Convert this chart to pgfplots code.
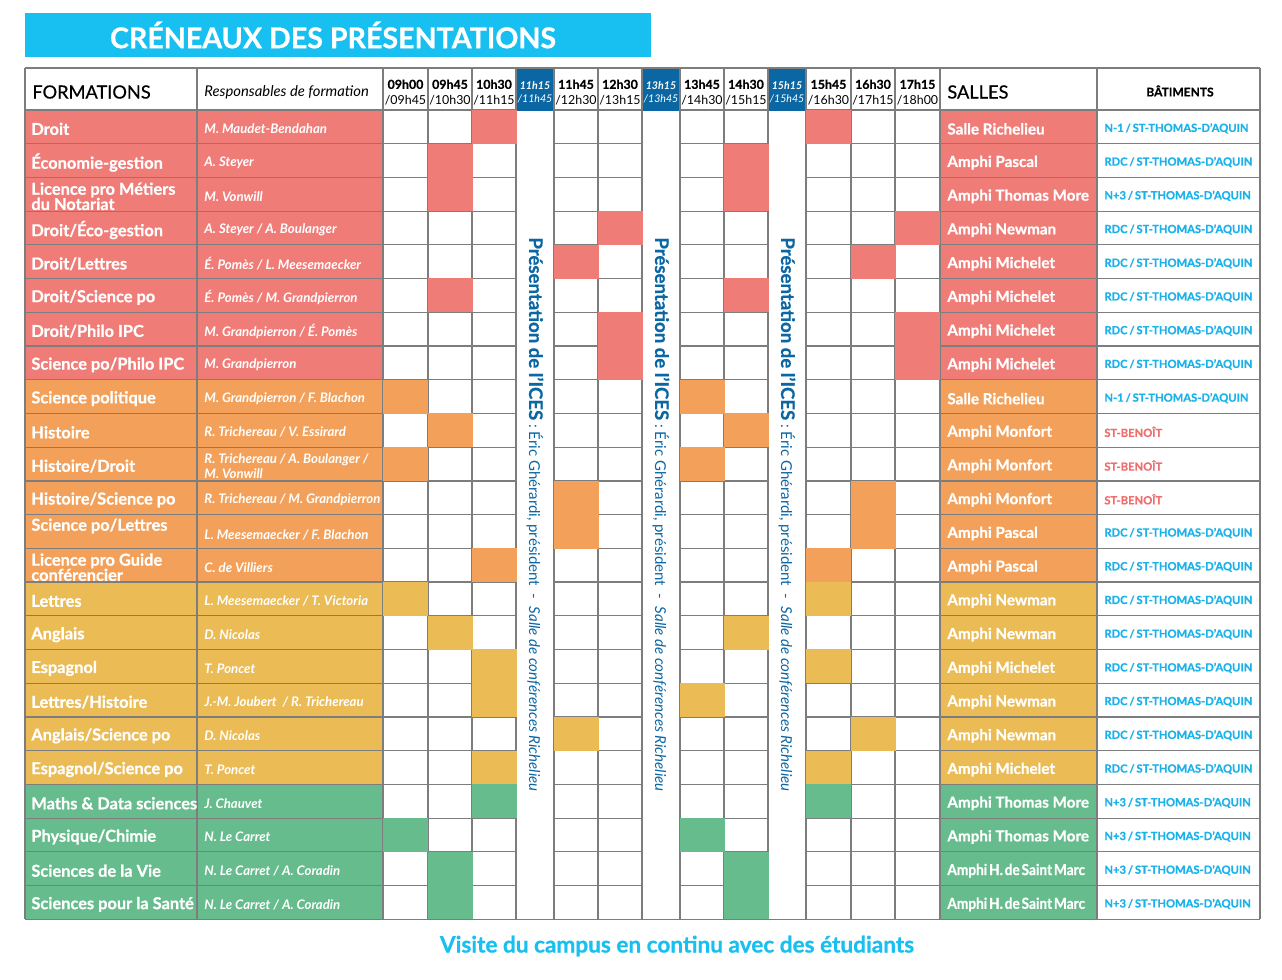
\documentclass[border=0pt]{standalone}
\usepackage{pgfplots}
\pgfplotsset{compat=1.18}
\usepackage{fontspec}
\setmainfont{Lato}[BoldFeatures={FakeBold=0.7}]
\usepackage{graphicx}

\definecolor{cred}{RGB}{240,124,120}
\definecolor{corange}{RGB}{243,161,90}
\definecolor{cyellow}{RGB}{235,187,85}
\definecolor{cgreen}{RGB}{102,188,141}
\definecolor{cdblue}{RGB}{10,103,163}
\definecolor{ccyan}{RGB}{23,192,240}
\definecolor{cbat}{RGB}{27,178,235}
\definecolor{cben}{RGB}{240,110,110}
\definecolor{cline}{RGB}{125,125,125}

\pgfdeclareplotmark{cell}{\pgfpathrectangle{\pgfpoint{-11.25pt}{-8.5pt}}{\pgfpoint{22.5pt}{17pt}}\pgfusepathqfill}

\tikzset{
  fnode/.style={anchor=west, inner sep=0pt, text=white, align=left, font=\fontsize{8.2}{7.6}\selectfont\bfseries},
  rnode/.style={anchor=west, inner sep=0pt, text=white, align=left, font=\fontsize{6.6}{7.4}\selectfont\bfseries\itshape},
  snode/.style={anchor=west, inner sep=0pt, text=white, font=\fontsize{7.6}{9}\selectfont\bfseries},
  bnode/.style={anchor=west, inner sep=0pt, text=cbat, font=\fontsize{5.6}{7}\selectfont\bfseries},
  hnode/.style={inner sep=0pt, align=center, font=\fontsize{6.2}{8}\selectfont},
  hbnode/.style={inner sep=0pt, align=center, text=white, font=\fontsize{5.3}{6.6}\selectfont\itshape},
  vnode/.style={rotate=-90, anchor=west, inner sep=0pt, text=cdblue},
}
\newcommand\Row[6]{%
  \node[fnode] at (axis cs:31,#1+2) {#2};
  \node[rnode] at (axis cs:204,#1+2) {#3};
  \node[snode] at (axis cs:947,#1+2) {#4};
  \node[bnode] at (axis cs:1104,#1+1.5) {#5};
}
\newcommand\Bat{RDC\,/\,ST-THOMAS-D’AQUIN}
\newcommand\Bn{N-1\,/\,ST-THOMAS-D’AQUIN}
\newcommand\Bp{N+3\,/\,ST-THOMAS-D’AQUIN}
\newcommand\Bb{\textcolor{cben}{ST-BENOÎT}}
\newcommand\Hdsm{\scalebox{0.9}[1]{Amphi\hspace{1pt}H.\hspace{1pt}de\hspace{1pt}Saint\hspace{1pt}Marc}}
\newcommand\Vtext{{\fontsize{9.3}{10}\selectfont\bfseries Présentation de l’ICES}{\fontsize{7.5}{8}\selectfont\ :\ Éric Ghérardi, président\ \ -\ \ \itshape Salle de conférences Richelieu}}

\begin{document}
\begin{tikzpicture}
\begin{axis}[
  width=641pt, height=490pt, scale only axis,
  xmin=0, xmax=1282, ymin=0, ymax=980, y dir=reverse,
  hide axis, clip=false,
]
% bounding area
\addplot[draw=none, fill=white] coordinates {(0,0)(1282,0)(1282,980)(0,980)} -- cycle;
% title banner
\addplot[draw=none, fill=ccyan] coordinates {(25,13)(651,13)(651,57)(25,57)} -- cycle;

% label column fills (FORMATIONS + Responsables, SALLES)
\addplot[draw=none, fill=cred] coordinates {(25,110)(383,110)(383,379.76)(25,379.76)} -- cycle;
\addplot[draw=none, fill=corange] coordinates {(25,379.76)(383,379.76)(383,582.08)(25,582.08)} -- cycle;
\addplot[draw=none, fill=cyellow] coordinates {(25,582.08)(383,582.08)(383,784.40)(25,784.40)} -- cycle;
\addplot[draw=none, fill=cgreen] coordinates {(25,784.40)(383,784.40)(383,919.28)(25,919.28)} -- cycle;
\addplot[draw=none, fill=cred] coordinates {(940,110)(1097,110)(1097,379.76)(940,379.76)} -- cycle;
\addplot[draw=none, fill=corange] coordinates {(940,379.76)(1097,379.76)(1097,582.08)(940,582.08)} -- cycle;
\addplot[draw=none, fill=cyellow] coordinates {(940,582.08)(1097,582.08)(1097,784.40)(940,784.40)} -- cycle;
\addplot[draw=none, fill=cgreen] coordinates {(940,784.40)(1097,784.40)(1097,919.28)(940,919.28)} -- cycle;

% time slot cells
\addplot[only marks, mark=cell, color=cred, mark options={fill=cred, draw=none}] coordinates {
 (494,126.86) (828.5,126.86)
 (450,160.58) (746,160.58)
 (450,194.30) (746,194.30)
 (620,228.02) (917.5,228.02)
 (576,261.74) (873,261.74)
 (450,295.46) (746,295.46)
 (620,329.18) (917.5,329.18)
 (620,362.90) (917.5,362.90)
};
\addplot[only marks, mark=cell, color=corange, mark options={fill=corange, draw=none}] coordinates {
 (405.5,396.62) (702,396.62)
 (450,430.34) (746,430.34)
 (405.5,464.06) (702,464.06)
 (576,497.78) (873,497.78)
 (576,531.50) (873,531.50)
 (494,565.22) (828.5,565.22)
};
\addplot[only marks, mark=cell, color=cyellow, mark options={fill=cyellow, draw=none}] coordinates {
 (405.5,598.94) (828.5,598.94)
 (450,632.66) (746,632.66)
 (494,666.38) (828.5,666.38)
 (494,700.10) (702,700.10)
 (576,733.82) (873,733.82)
 (494,767.54) (828.5,767.54)
};
\addplot[only marks, mark=cell, color=cgreen, mark options={fill=cgreen, draw=none}] coordinates {
 (494,801.26) (828.5,801.26)
 (405.5,834.98) (702,834.98)
 (450,868.70) (746,868.70)
 (450,902.42) (746,902.42)
};

% horizontal rules
\addplot[cline, line width=0.6pt, unbounded coords=jump] coordinates {
 (25,110)(1260,110) (nan,nan)
 (25,143.72)(1260,143.72) (nan,nan)
 (25,177.44)(1260,177.44) (nan,nan)
 (25,211.16)(1260,211.16) (nan,nan)
 (25,244.88)(1260,244.88) (nan,nan)
 (25,278.60)(1260,278.60) (nan,nan)
 (25,312.32)(1260,312.32) (nan,nan)
 (25,346.04)(1260,346.04) (nan,nan)
 (25,379.76)(1260,379.76) (nan,nan)
 (25,413.48)(1260,413.48) (nan,nan)
 (25,447.20)(1260,447.20) (nan,nan)
 (25,480.92)(1260,480.92) (nan,nan)
 (25,514.64)(1260,514.64) (nan,nan)
 (25,548.36)(1260,548.36) (nan,nan)
 (25,582.08)(1260,582.08) (nan,nan)
 (25,615.80)(1260,615.80) (nan,nan)
 (25,649.52)(1260,649.52) (nan,nan)
 (25,683.24)(1260,683.24) (nan,nan)
 (25,716.96)(1260,716.96) (nan,nan)
 (25,750.68)(1260,750.68) (nan,nan)
 (25,784.40)(1260,784.40) (nan,nan)
 (25,818.12)(1260,818.12) (nan,nan)
 (25,851.84)(1260,851.84) (nan,nan)
 (25,885.56)(1260,885.56)
};

% presentation columns: white body, blue header
\addplot[draw=none, fill=white] coordinates {(516,104)(554,104)(554,918.6)(516,918.6)} -- cycle;
\addplot[draw=none, fill=white] coordinates {(642,104)(680,104)(680,918.6)(642,918.6)} -- cycle;
\addplot[draw=none, fill=white] coordinates {(768,104)(806,104)(806,918.6)(768,918.6)} -- cycle;
\addplot[draw=none, fill=cdblue] coordinates {(516,68)(554,68)(554,111)(516,111)} -- cycle;
\addplot[draw=none, fill=cdblue] coordinates {(642,68)(680,68)(680,111)(642,111)} -- cycle;
\addplot[draw=none, fill=cdblue] coordinates {(768,68)(806,68)(806,111)(768,111)} -- cycle;

% vertical rules and outer frame
\addplot[cline, line width=0.6pt, unbounded coords=jump] coordinates {
 (25,68)(25,919.28) (nan,nan)
 (197,68)(197,919.28) (nan,nan)
 (383,68)(383,919.28) (nan,nan)
 (428,68)(428,919.28) (nan,nan)
 (472,68)(472,919.28) (nan,nan)
 (516,68)(516,919.28) (nan,nan)
 (554,68)(554,919.28) (nan,nan)
 (598,68)(598,919.28) (nan,nan)
 (642,68)(642,919.28) (nan,nan)
 (680,68)(680,919.28) (nan,nan)
 (724,68)(724,919.28) (nan,nan)
 (768,68)(768,919.28) (nan,nan)
 (806,68)(806,919.28) (nan,nan)
 (851,68)(851,919.28) (nan,nan)
 (895,68)(895,919.28) (nan,nan)
 (940,68)(940,919.28) (nan,nan)
 (1097,68)(1097,919.28) (nan,nan)
 (1260,68)(1260,919.28) (nan,nan)
 (25,68)(1260,68) (nan,nan)
 (25,919.28)(1260,919.28)
};

% ---------- texts ----------
\node[text=white, inner sep=0pt, font=\fontsize{14.3}{17}\selectfont\bfseries] at (axis cs:333,35) {CRÉNEAUX DES PRÉSENTATIONS};
\node[text=ccyan, inner sep=0pt, font=\fontsize{11.3}{13}\selectfont\bfseries] at (axis cs:677,946) {Visite du campus en continu avec des étudiants};

% header
\node[anchor=west, inner sep=0pt, font=\fontsize{9.1}{11}\selectfont\addfontfeature{FakeBold=0.5}] at (axis cs:32,92) {FORMATIONS};
\node[anchor=west, inner sep=0pt, font=\fontsize{7.4}{8}\selectfont\itshape] at (axis cs:204,92) {Responsables de formation};
\node[anchor=west, inner sep=0pt, font=\fontsize{9.1}{11}\selectfont\addfontfeature{FakeBold=0.5}] at (axis cs:947,92) {SALLES};
\node[inner sep=0pt, font=\fontsize{6}{7}\selectfont\bfseries] at (axis cs:1180,91) {BÂTIMENTS};

\node[hnode] at (axis cs:405.5,92.5) {\textbf{09h00}\\/09h45};
\node[hnode] at (axis cs:450,92.5) {\textbf{09h45}\\/10h30};
\node[hnode] at (axis cs:494,92.5) {\textbf{10h30}\\/11h15};
\node[hbnode] at (axis cs:535,92) {\textbf{11h15}\\/11h45};
\node[hnode] at (axis cs:576,92.5) {\textbf{11h45}\\/12h30};
\node[hnode] at (axis cs:620,92.5) {\textbf{12h30}\\/13h15};
\node[hbnode] at (axis cs:661,92) {\textbf{13h15}\\/13h45};
\node[hnode] at (axis cs:702,92.5) {\textbf{13h45}\\/14h30};
\node[hnode] at (axis cs:746,92.5) {\textbf{14h30}\\/15h15};
\node[hbnode] at (axis cs:787,92) {\textbf{15h15}\\/15h45};
\node[hnode] at (axis cs:828.5,92.5) {\textbf{15h45}\\/16h30};
\node[hnode] at (axis cs:873,92.5) {\textbf{16h30}\\/17h15};
\node[hnode] at (axis cs:917.5,92.5) {\textbf{17h15}\\/18h00};

% vertical texts
\node[vnode] at (axis cs:535,237) {\Vtext};
\node[vnode] at (axis cs:661,237) {\Vtext};
\node[vnode] at (axis cs:787,237) {\Vtext};

% rows
\Row{126.86}{Droit}{M. Maudet-Bendahan}{Salle Richelieu}{\Bn}{}
\Row{160.58}{Économie-gestion}{A. Steyer}{Amphi Pascal}{\Bat}{}
\Row{194.30}{Licence pro Métiers\\du Notariat}{M. Vonwill}{Amphi Thomas More}{\Bp}{}
\Row{228.02}{Droit/Éco-gestion}{A. Steyer / A. Boulanger}{Amphi Newman}{\Bat}{}
\Row{261.74}{Droit/Lettres}{É. Pomès / L. Meesemaecker}{Amphi Michelet}{\Bat}{}
\Row{295.46}{Droit/Science po}{É. Pomès / M. Grandpierron}{Amphi Michelet}{\Bat}{}
\Row{329.18}{Droit/Philo IPC}{M. Grandpierron / É. Pomès}{Amphi Michelet}{\Bat}{}
\Row{362.90}{Science po/Philo IPC}{M. Grandpierron}{Amphi Michelet}{\Bat}{}
\Row{396.62}{Science politique}{M. Grandpierron / F. Blachon}{Salle Richelieu}{\Bn}{}
\Row{430.34}{Histoire}{R. Trichereau / V. Essirard}{Amphi Monfort}{\Bb}{}
\Row{464.06}{Histoire/Droit}{R. Trichereau / A. Boulanger /\\M. Vonwill}{Amphi Monfort}{\Bb}{}
\Row{497.78}{Histoire/Science po}{R. Trichereau / M. Grandpierron}{Amphi Monfort}{\Bb}{}
\node[fnode] at (axis cs:31,526) {Science po/Lettres};
\node[rnode] at (axis cs:204,534.5) {L. Meesemaecker / F. Blachon};
\node[snode] at (axis cs:947,533.5) {Amphi Pascal};
\node[bnode] at (axis cs:1104,533) {\Bat};
\Row{565.22}{Licence pro Guide\\conférencier}{C. de Villiers}{Amphi Pascal}{\Bat}{}
\Row{598.94}{Lettres}{L. Meesemaecker / T. Victoria}{Amphi Newman}{\Bat}{}
\Row{632.66}{Anglais}{D. Nicolas}{Amphi Newman}{\Bat}{}
\Row{666.38}{Espagnol}{T. Poncet}{Amphi Michelet}{\Bat}{}
\Row{700.10}{Lettres/Histoire}{J.-M. Joubert~~/ R. Trichereau}{Amphi Newman}{\Bat}{}
\Row{733.82}{Anglais/Science po}{D. Nicolas}{Amphi Newman}{\Bat}{}
\Row{767.54}{Espagnol/Science po}{T. Poncet}{Amphi Michelet}{\Bat}{}
\Row{801.26}{Maths \& Data sciences}{J. Chauvet}{Amphi Thomas More}{\Bp}{}
\Row{834.98}{Physique/Chimie}{N. Le Carret}{Amphi Thomas More}{\Bp}{}
\Row{868.70}{Sciences de la Vie}{N. Le Carret / A. Coradin}{\Hdsm}{\Bp}{}
\Row{902.42}{Sciences pour la Santé}{N. Le Carret / A. Coradin}{\Hdsm}{\Bp}{}
\end{axis}
\end{tikzpicture}
\end{document}
